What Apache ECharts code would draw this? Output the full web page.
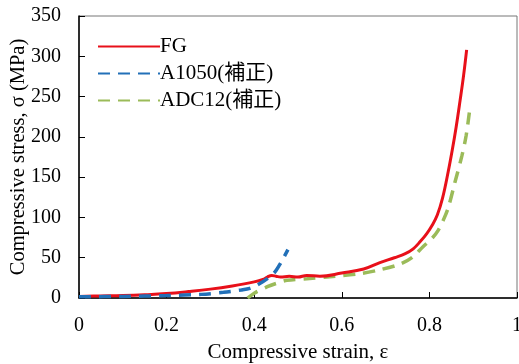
<!DOCTYPE html>
<html><head><meta charset="utf-8">
<script src="https://cdn.jsdelivr.net/npm/echarts@6/dist/echarts.min.js"></script>
<style>html,body{margin:0;padding:0;background:#fff}#c{width:519px;height:364px}</style>
</head><body><div id="c"></div>
<script>
const seriesNames = ['FG', 'A1050(補正)', 'ADC12(補正)'];
const xTicks = [0, 0.2, 0.4, 0.6, 0.8, 1];
const yTicks = [0, 50, 100, 150, 200, 250, 300, 350];
const fgData = [[0,2],[0.05,2.5],[0.1,3],[0.15,4],[0.2,5.5],[0.25,8],[0.3,11],[0.35,15],[0.4,20],[0.42,23],[0.43,26],[0.44,28],[0.45,27],[0.46,26],[0.48,27],[0.5,26],[0.52,28],[0.55,27],[0.6,31],[0.65,36],[0.687,44],[0.72,50],[0.745,55],[0.763,61],[0.779,70],[0.794,80],[0.806,90],[0.818,103],[0.83,124],[0.843,157],[0.852,183],[0.861,212],[0.87,245],[0.878,276],[0.885,308]];
const a1050Data = [[0,1.5],[0.1,2],[0.2,3],[0.28,4.5],[0.33,7],[0.37,10],[0.39,12],[0.41,17],[0.43,24],[0.447,32],[0.46,43],[0.477,60]];
const adc12Data = [[0.385,0],[0.4,6],[0.43,14],[0.45,18],[0.475,22],[0.52,24],[0.566,26],[0.64,30],[0.687,35],[0.733,42],[0.76,50],[0.786,64],[0.806,74],[0.82,84],[0.832,97],[0.843,112],[0.858,143],[0.874,176],[0.884,202],[0.893,238]];

const serif = '"Liberation Serif", "Noto Sans CJK JP", serif';
const chart = echarts.init(document.getElementById('c'));
chart.setOption({
  animation: false,
  grid: {left: 79, right: 2, top: 16, bottom: 66, show: true, borderColor: '#777', borderWidth: 1, containLabel: false, outerBoundsMode: 'none'},
  legend: {
    left: 92, top: 31, orient: 'vertical', itemWidth: 62, itemHeight: 14, itemGap: 6,
    itemStyle: {opacity: 0},
    textStyle: {fontFamily: serif, fontSize: 21, color: '#000', padding: [0,0,0,-5]},
    data: seriesNames
  },
  xAxis: {
    type: 'value', min: xTicks[0], max: xTicks[xTicks.length-1], interval: 0.2,
    name: 'Compressive strain, ε', nameLocation: 'middle', nameGap: 44, nameMoveOverlap: false,
    nameTextStyle: {fontFamily: serif, fontSize: 21, color: '#000'},
    axisLine: {lineStyle: {color: '#000', width: 1.5}},
    axisTick: {inside: true, length: 6, lineStyle: {color: '#000'}},
    axisLabel: {fontFamily: serif, fontSize: 20, color: '#000', margin: 18},
    splitLine: {show: false}
  },
  yAxis: {
    type: 'value', min: yTicks[0], max: yTicks[yTicks.length-1], interval: 50,
    name: 'Compressive stress, σ (MPa)', nameLocation: 'middle', nameGap: 50, nameMoveOverlap: false,
    nameTextStyle: {fontFamily: serif, fontSize: 20.5, color: '#000'},
    axisLine: {show: true, lineStyle: {color: '#000', width: 1.5}},
    axisTick: {show: true, inside: true, length: 6, lineStyle: {color: '#000'}},
    axisLabel: {fontFamily: serif, fontSize: 20, color: '#000', margin: 18, padding: [7,0,0,0]},
    splitLine: {show: false}
  },
  series: [
    {name: seriesNames[0], type: 'line', data: fgData, symbol: 'none', smooth: 0.4, z: 3,
     lineStyle: {color: '#e8101a', width: 3}, itemStyle: {color: '#e8101a'}},
    {name: seriesNames[1], type: 'line', data: a1050Data, symbol: 'none', smooth: 0.3, z: 4,
     lineStyle: {color: '#2270b8', width: 3.5, type: [12, 8]}, itemStyle: {color: '#2270b8'}},
    {name: seriesNames[2], type: 'line', data: adc12Data, symbol: 'none', smooth: 0.3, z: 2,
     lineStyle: {color: '#9bbb59', width: 3.5, type: [12, 8]}, itemStyle: {color: '#9bbb59'}}
  ]
});
</script></body></html>
